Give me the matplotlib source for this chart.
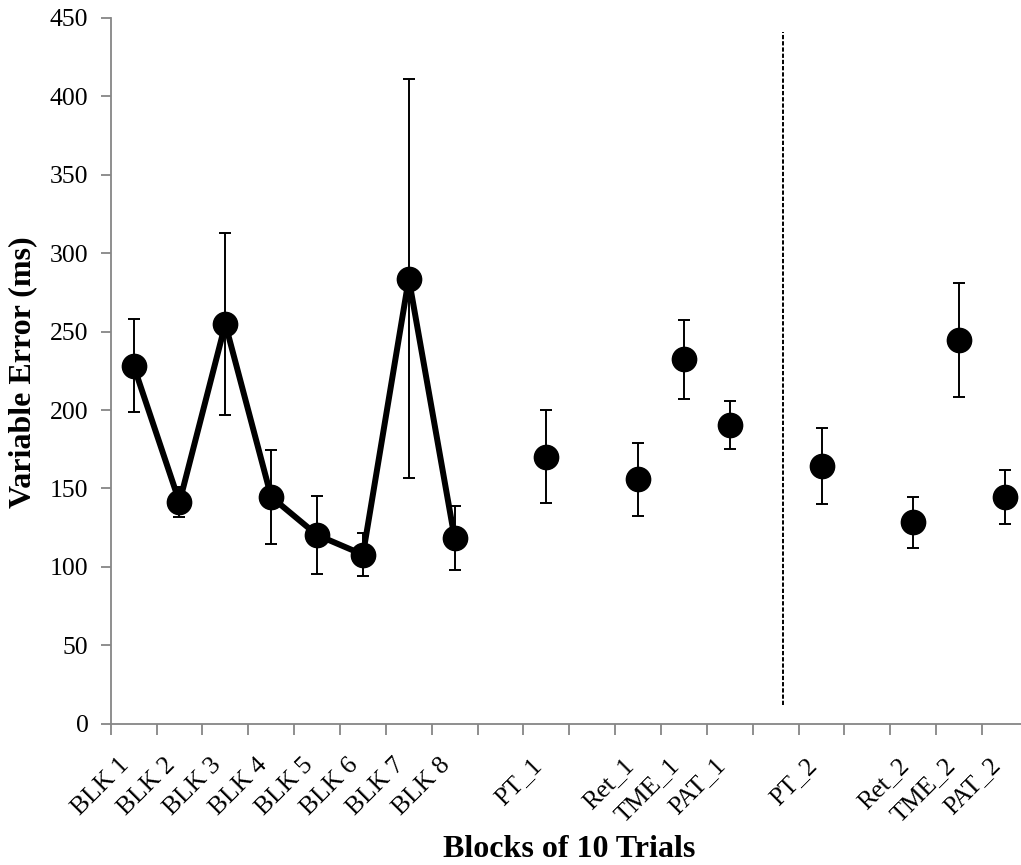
import numpy as np
import matplotlib
matplotlib.use('Agg')
from matplotlib import pyplot as plt

# categories along x, blank strings are the empty gap slots
categories = ['BLK 1', 'BLK 2', 'BLK 3', 'BLK 4', 'BLK 5', 'BLK 6', 'BLK 7', 'BLK 8',
              '', 'PT_1', '', 'Ret_1', 'TME_1', 'PAT_1', '', 'PT_2', '', 'Ret_2', 'TME_2', 'PAT_2']
means = [228.3, 141.2, 254.9, 144.6, 120.3, 107.8, 283.8, 118.2,
         np.nan, 170.1, np.nan, 155.9, 232.4, 190.3, np.nan, 164.3, np.nan, 128.4, 244.7, 144.6]
errors = [29.8, 9.6, 58.3, 29.8, 24.6, 13.6, 127.1, 20.4,
          np.nan, 29.7, np.nan, 23.2, 25.1, 15.2, np.nan, 24.3, np.nan, 16.3, 36.5, 17.3]
n_blocks = 8          # acquisition blocks joined by a line
divider_x = 14.15     # dashed separator between test sessions
divider_span = [12, 441]

plt.rcParams['font.family'] = ['Liberation Serif', 'DejaVu Serif']

fig = plt.figure(figsize=(10.21, 8.65), dpi=100)
ax = fig.add_axes([0.1084, 0.1634, 0.8984, 0.8158])

x = np.arange(len(categories))
ax.plot(x[:n_blocks], means[:n_blocks], color='black', lw=4.3, zorder=2)
ax.errorbar(x, means, yerr=errors, fmt='o', color='black', ms=17.5, ecolor='black',
            elinewidth=1.4, capsize=4, capthick=1.4, zorder=3)
ax.plot([divider_x, divider_x], divider_span, color='black', lw=1.4,
        linestyle=(0, (2.2, 1.0)), zorder=1)

ax.set_xlim(-0.5, len(categories) - 0.5)
ax.set_ylim(0, 450)
ax.set_yticks(np.arange(0, 451, 50))
ax.set_xticks(x)
ax.set_xticklabels(categories, rotation=45, ha='right', rotation_mode='default')
ax.set_xticks(np.arange(-0.5, len(categories), 1), minor=True)
ax.tick_params(axis='x', which='major', length=0, pad=22, labelsize=18.5)
ax.tick_params(axis='x', which='minor', length=8, width=1.3, color='#868686', direction='out')
ax.tick_params(axis='y', length=7, width=1.3, color='#868686', labelsize=18.5, pad=9)

for side in ['top', 'right']:
    ax.spines[side].set_visible(False)
for side in ['left', 'bottom']:
    ax.spines[side].set_color('#868686')
    ax.spines[side].set_linewidth(1.3)

fig.text(23 / 1021, 1 - 372 / 865, 'Variable Error (ms)', rotation=90, ha='center', va='center',
         fontsize=23, fontweight='bold')
fig.text(569 / 1021, 1 - 857 / 865, 'Blocks of 10 Trials', ha='center', va='baseline',
         fontsize=23, fontweight='bold')

fig.savefig('out.png', dpi=100)
